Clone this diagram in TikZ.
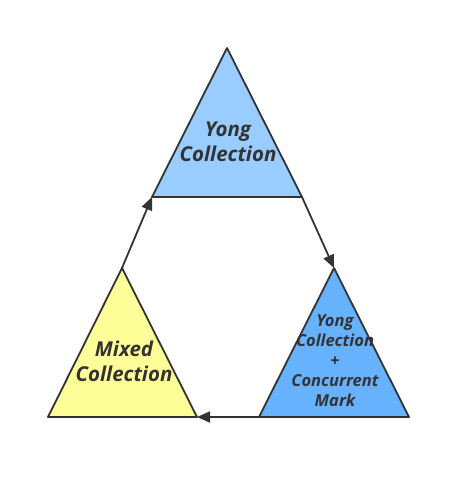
\documentclass[tikz,border=0pt]{standalone}
\usepackage{fontspec}
\setmainfont{Open Sans}
\usetikzlibrary{arrows.meta}
\definecolor{lineGray}{HTML}{333333}
\definecolor{youngBlue}{HTML}{99CCFF}
\definecolor{markBlue}{HTML}{66B2FF}
\definecolor{mixedYellow}{HTML}{FFFF99}
\tikzset{
  tri/.style={draw=lineGray, line width=1.8pt, line join=round},
  label/.style={text=lineGray, align=center, inner sep=0pt},
  flow/.style={draw=lineGray, line width=1.8pt, -{Triangle[length=13pt,width=11pt]}}
}
\begin{document}
\begin{tikzpicture}[x=1pt,y=-1pt]
  \useasboundingbox (0,0) rectangle (470,480);
  % corners of the three triangles
  \coordinate (Ytop) at (227,48);
  \coordinate (Yleft) at (152,197);
  \coordinate (Yright) at (302,197);
  \coordinate (Ctop) at (334,268);
  \coordinate (Cleft) at (259,417);
  \coordinate (Cright) at (409,417);
  \coordinate (Mtop) at (122,268);
  \coordinate (Mleft) at (48,417);
  \coordinate (Mright) at (197,417);

  \filldraw[tri, fill=youngBlue] (Ytop) -- (Yleft) -- (Yright) -- cycle;
  \filldraw[tri, fill=markBlue] (Ctop) -- (Cleft) -- (Cright) -- cycle;
  \filldraw[tri, fill=mixedYellow] (Mtop) -- (Mleft) -- (Mright) -- cycle;

  \node[label, font=\fontsize{20.5}{25}\selectfont\bfseries\itshape] (young) at (228,142) {Yong\\Collection};
  \node[label, font=\fontsize{16.5}{20}\selectfont\bfseries\itshape] (mark) at (335,361) {Yong\\Collection\\+\\Concurrent\\Mark};
  \node[label, font=\fontsize{20.5}{25}\selectfont\bfseries\itshape] (mixed) at (124,361) {Mixed\\Collection};

  \draw[flow] (Yright) -- (Ctop);
  \draw[flow] (Cleft) -- (Mright);
  \draw[flow] (Mtop) -- (Yleft);
\end{tikzpicture}
\end{document}
